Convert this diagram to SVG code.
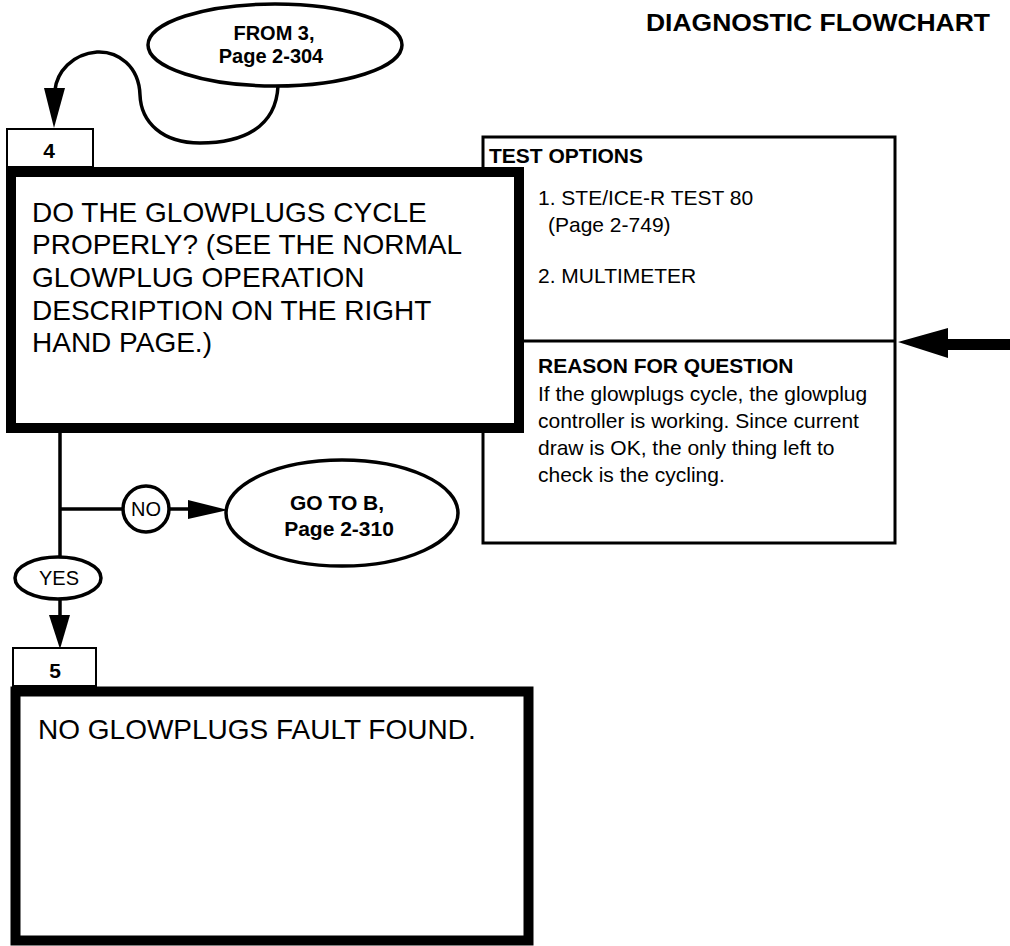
<svg xmlns="http://www.w3.org/2000/svg" width="1010" height="946" viewBox="0 0 1010 946">
<style>
text { font-family: "Liberation Sans", Arial, sans-serif; fill: #000; }
.b { font-weight: bold; }
.big { font-size: 28px; }
.tab { fill: #fff; stroke: #000; stroke-width: 2; }
.thick { fill: #fff; stroke: #000; stroke-width: 10; }
.thin { fill: #fff; stroke: #000; stroke-width: 3; }
.ell { fill: #fff; stroke: #000; stroke-width: 3.5; }
.ln { fill: none; stroke: #000; stroke-width: 3.5; }
.ah { fill: #000; stroke: none; }
.opt { font-size: 21px; }
</style>
<rect width="1010" height="946" fill="#fff"/>
<text id="title" class="b" x="646" y="31" font-size="24" textLength="344" lengthAdjust="spacingAndGlyphs">DIAGNOSTIC FLOWCHART</text>

<g id="from3">
  <ellipse class="ell" cx="275" cy="45" rx="127" ry="41"/>
  <text class="b" x="274" y="40" font-size="20" text-anchor="middle">FROM 3,</text>
  <text class="b" x="271" y="63" font-size="20" text-anchor="middle">Page 2-304</text>
</g>

<g id="testbox">
  <rect class="thin" x="483" y="137" width="412" height="406"/>
  <line x1="483" y1="341" x2="895" y2="341" stroke="#000" stroke-width="3"/>
  <text class="b opt" x="489" y="163">TEST OPTIONS</text>
  <text class="opt" x="538" y="205">1. STE/ICE-R TEST 80</text>
  <text class="opt" x="548" y="232">(Page 2-749)</text>
  <text class="opt" x="538" y="283">2. MULTIMETER</text>
  <text class="b opt" x="538" y="373">REASON FOR QUESTION</text>
  <text class="opt" x="538" y="401">If the glowplugs cycle, the glowplug</text>
  <text class="opt" x="538" y="428">controller is working.  Since current</text>
  <text class="opt" x="538" y="455">draw is OK, the only thing left to</text>
  <text class="opt" x="538" y="482">check is the cycling.</text>
</g>

<g id="step4">
  <rect class="tab" x="7" y="129" width="86" height="38"/>
  <text class="b" x="49" y="158" font-size="21" text-anchor="middle">4</text>
  <rect class="thick" x="11" y="172" width="508" height="256"/>
  <text class="big" x="32" y="222">DO THE GLOWPLUGS CYCLE</text>
  <text class="big" x="32" y="254">PROPERLY? (SEE THE NORMAL</text>
  <text class="big" x="32" y="287">GLOWPLUG OPERATION</text>
  <text class="big" x="32" y="320">DESCRIPTION ON THE RIGHT</text>
  <text class="big" x="32" y="352">HAND PAGE.)</text>
</g>

<g id="gotoB">
  <ellipse class="ell" cx="342" cy="513" rx="116" ry="53"/>
  <text class="b" x="337" y="510" font-size="21" text-anchor="middle">GO TO B,</text>
  <text class="b" x="339" y="536" font-size="21" text-anchor="middle">Page 2-310</text>
</g>

<g id="step5">
  <rect class="tab" x="13" y="648" width="83" height="38"/>
  <text class="b" x="55" y="678" font-size="21" text-anchor="middle">5</text>
  <rect class="thick" x="15.5" y="691.5" width="513" height="249" stroke-width="11"/>
  <text class="big" x="38" y="739">NO GLOWPLUGS FAULT FOUND.</text>
</g>

<g id="connectors">
  <path class="ln" d="M278,86 C276,128 242,143 200,143 C162,143 141,122 140,95 C139,66 118,51 97,52 C72,54 57,72 55,90"/>
  <polygon class="ah" points="44,88 65,88 54,128"/>
  <line class="ln" x1="60" y1="433" x2="60" y2="557"/>
  <line class="ln" x1="60" y1="509" x2="123" y2="509"/>
  <g id="no">
    <circle class="ell" cx="146" cy="509" r="23"/>
    <text x="146" y="516" font-size="20" text-anchor="middle">NO</text>
  </g>
  <line class="ln" x1="169" y1="509" x2="192" y2="509"/>
  <polygon class="ah" points="188,500 228,510 188,519"/>
  <g id="yes">
    <ellipse class="ell" cx="58" cy="578" rx="43" ry="21"/>
    <text x="59" y="585" font-size="20" text-anchor="middle">YES</text>
  </g>
  <line class="ln" x1="60" y1="599" x2="60" y2="617"/>
  <polygon class="ah" points="49,615 70,615 60,649"/>
  <line x1="945" y1="344.5" x2="1010" y2="344.5" stroke="#000" stroke-width="11"/>
  <polygon class="ah" points="898,342 948,328 948,358"/>
</g>
</svg>
